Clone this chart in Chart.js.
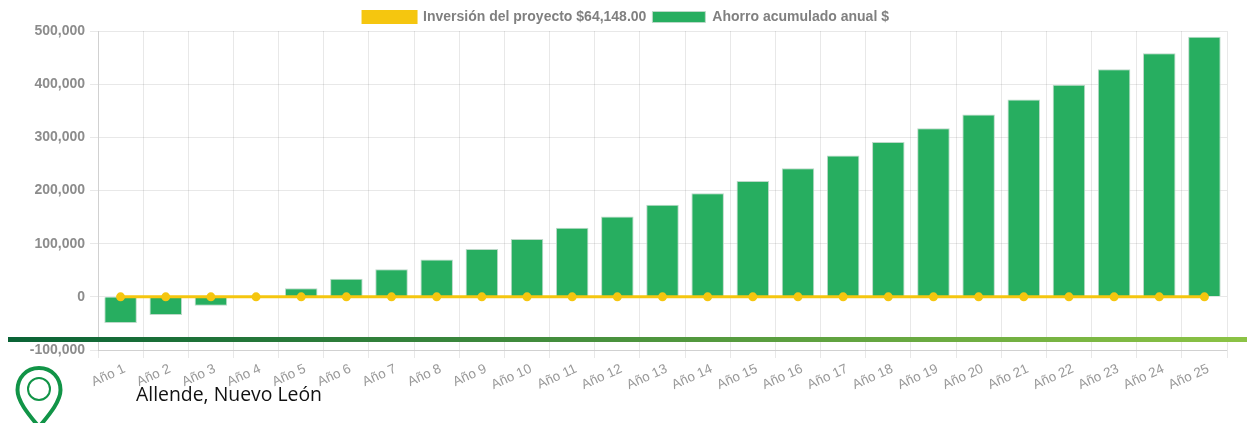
<!DOCTYPE html>
<html lang="es">
<head>
<meta charset="utf-8">
<title>Allende, Nuevo León</title>
<script src="https://cdn.jsdelivr.net/npm/chart.js@4"></script>
<style>
  html, body { margin: 0; padding: 0; background: #fff; overflow: hidden; }
  #wrap { position: relative; width: 1247px; height: 423px; overflow: hidden; }
  #chart { position: absolute; left: 0; top: 0; }
  #stripe { position: absolute; left: 8px; right: 0; top: 337px; height: 5px;
            background: linear-gradient(to right, #0a6336, #8cc345); }
  #pin { position: absolute; left: 0; top: 0; }
  #place { position: absolute; left: 136px; top: 380px; font: 19.4px "Open Sans", sans-serif; color: #111; white-space: nowrap; }
</style>
</head>
<body>
<div id="wrap">
  <canvas id="chart" width="1247" height="423"></canvas>
  <div id="stripe"></div>
  <svg id="pin" width="80" height="423">
    <path d="M39 368 C26 368 17.5 378 17.5 390 C17.5 402 30 416 39 427 C48 416 60.5 402 60.5 390 C60.5 378 52 368 39 368 Z" fill="none" stroke="#119447" stroke-width="4"/>
    <circle cx="39" cy="389" r="11" fill="none" stroke="#119447" stroke-width="2"/>
  </svg>
  <div id="place">Allende, Nuevo León</div>
</div>
<script>
const categories = ['Año 1', 'Año 2', 'Año 3', 'Año 4', 'Año 5', 'Año 6', 'Año 7', 'Año 8', 'Año 9', 'Año 10',
    'Año 11', 'Año 12', 'Año 13', 'Año 14', 'Año 15', 'Año 16', 'Año 17', 'Año 18', 'Año 19', 'Año 20',
    'Año 21', 'Año 22', 'Año 23', 'Año 24', 'Año 25'];
const ahorro = [-49000, -34000, -17000, 0, 16000, 34000, 52000, 70000, 90000, 109000,
    130000, 151000, 173000, 195000, 218000, 242000, 266000, 291000, 317000, 343000,
    371000, 399000, 428000, 458000, 489000];
const inversion = [0, 0, 0, 0, 0, 0, 0, 0, 0, 0, 0, 0, 0, 0, 0, 0, 0, 0, 0, 0, 0, 0, 0, 0, 0];

// legend sits a little lower than chart.js would put it
const legendNudge = {
    id: 'legendNudge',
    afterLayout: function (chart) { chart.legend.top += 3; }
};

const ctx = document.getElementById('chart').getContext('2d');
new Chart(ctx, {
    type: 'bar',
    plugins: [legendNudge],
    data: {
        labels: categories,
        datasets: [{
            type: 'line',
            label: 'Inversión del proyecto $64,148.00',
            data: inversion,
            borderColor: '#f5c60f',
            backgroundColor: '#f5c60f',
            borderWidth: 3,
            pointRadius: 3,
            pointBackgroundColor: '#f5c60f',
            pointBorderColor: '#f5c60f',
            tension: 0,
            order: 1
        }, {
            label: 'Ahorro acumulado anual $',
            data: ahorro,
            backgroundColor: '#27ae60',
            borderColor: '#bcd9c8',
            borderWidth: 1,
            barPercentage: 0.8,
            categoryPercentage: 0.9,
            order: 2
        }]
    },
    options: {
        responsive: false,
        animation: false,
        // left padding keeps the legend centred over the plot like the original
        layout: { padding: { top: 1, right: 20, bottom: 0, left: 25 } },
        scales: {
            y: {
                min: -100000,
                max: 500000,
                ticks: {
                    stepSize: 100000,
                    color: '#8c8c8c',
                    padding: 5,
                    font: { family: '"Liberation Sans"', size: 14, weight: 'bold' },
                    callback: function (v) { return v.toLocaleString('en-US'); }
                },
                grid: { color: 'rgba(0,0,0,0.09)', tickLength: 8 },
                afterFit: function (axis) { axis.width = 73; }
            },
            x: {
                ticks: {
                    color: '#999',
                    maxRotation: 24,
                    minRotation: 24,
                    labelOffset: 4,
                    autoSkip: false,
                    font: { family: '"Liberation Sans"', size: 13.5 }
                },
                grid: { color: 'rgba(0,0,0,0.09)', offset: true, tickLength: 8 },
                afterFit: function (axis) { axis.height = 73; }
            }
        },
        plugins: {
            legend: {
                position: 'top',
                labels: {
                    boxWidth: 53,
                    boxHeight: 11,
                    color: '#808080',
                    padding: 6,
                    font: { family: '"Liberation Sans"', size: 14, weight: 'bold' }
                }
            },
            tooltip: { enabled: false }
        }
    }
});
</script>
</body>
</html>
